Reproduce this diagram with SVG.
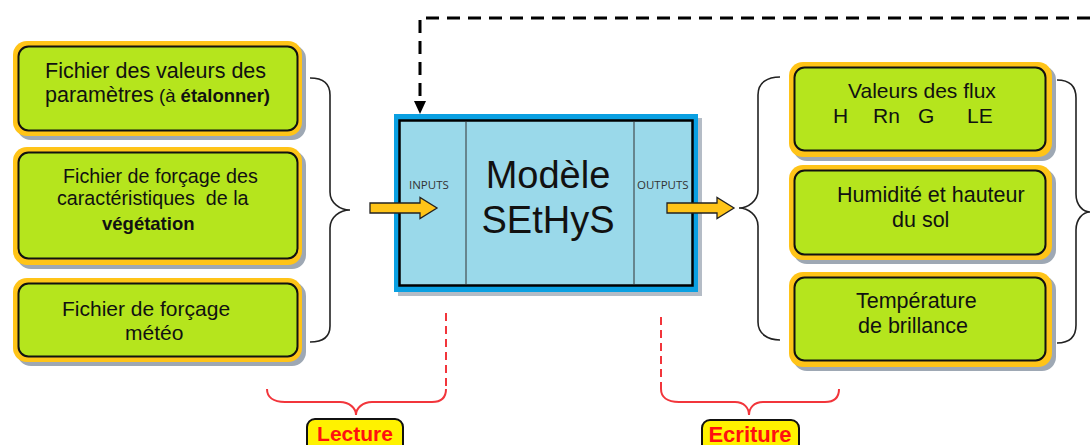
<svg xmlns="http://www.w3.org/2000/svg" width="1090" height="445" viewBox="0 0 1090 445">
<style>
.sh{fill:#9ea8b4}
.or{fill:#ffc418}
.gr{fill:#b5e51d;stroke:#111;stroke-width:2}
.t{font-family:"Liberation Sans",Arial,sans-serif;font-size:21.5px;fill:#111}
.b{font-weight:bold}
.small{font-family:"Open Sans","Liberation Sans",sans-serif;font-size:11.5px;fill:#333}
.brace{fill:none;stroke:#222;stroke-width:1.6}
.red{fill:none;stroke:#f2353b;stroke-width:2}
.reddash{fill:none;stroke:#f2353b;stroke-width:2;stroke-dasharray:8 5}
.arrow{fill:#ffc418;stroke:#222;stroke-width:1.3}
.lab{fill:#fff200;stroke:#111;stroke-width:2}
.labt{font-family:"Liberation Sans",Arial,sans-serif;font-weight:bold;fill:#ff1010;text-anchor:middle}
</style>
<rect width="1090" height="445" fill="#fff"/>

<g id="param">
<rect class="sh" x="17" y="45" width="289" height="95" rx="14"/>
<rect class="or" x="13" y="41" width="289" height="95" rx="14"/>
<rect class="gr" x="18.5" y="46.5" width="279" height="84" rx="10"/>
<text class="t" x="45" y="78">Fichier des valeurs des</text>
<text class="t" x="45" y="102">paramètres</text>
<text class="t" x="159" y="102" style="font-size:18.5px">(à <tspan class="b">étalonner)</tspan></text>
</g>

<g id="vegetation">
<rect class="sh" x="17" y="151" width="289" height="118" rx="14"/>
<rect class="or" x="13" y="147" width="289" height="118" rx="14"/>
<rect class="gr" x="18.5" y="152.5" width="279" height="106" rx="10"/>
<text class="t" x="63" y="183" style="font-size:19.7px">Fichier de forçage des</text>
<text class="t" x="57" y="205" style="font-size:19.7px" xml:space="preserve">caractéristiques  de la</text>
<text class="t b" x="102" y="230" style="font-size:18.5px">végétation</text>
</g>

<g id="meteo">
<rect class="sh" x="17" y="282" width="289" height="84" rx="14"/>
<rect class="or" x="13" y="278" width="289" height="84" rx="14"/>
<rect class="gr" x="18.5" y="283.5" width="279" height="73" rx="10"/>
<text class="t" x="62" y="316" style="font-size:21px">Fichier de forçage</text>
<text class="t" x="125" y="340" style="font-size:21px">météo</text>
</g>

<g id="modele">
<rect x="398" y="118" width="304" height="178" fill="#b4bcc6"/>
<rect x="394" y="114" width="304" height="178" fill="#0aa0e2"/>
<rect x="399.5" y="120.5" width="293" height="165" fill="#9ad9ea" stroke="#000" stroke-width="2.5"/>
<line x1="466" y1="121" x2="466" y2="285" stroke="#333" stroke-width="1"/>
<line x1="634" y1="121" x2="634" y2="285" stroke="#333" stroke-width="1"/>
<text class="t" x="548" y="188" text-anchor="middle" style="font-size:38px">Modèle</text>
<text class="t" x="548" y="233" text-anchor="middle" style="font-size:38px">SEtHyS</text>
<text class="small" x="409" y="189">INPUTS</text>
<text class="small" x="637" y="189">OUTPUTS</text>
</g>

<g id="flux">
<rect class="sh" x="793" y="66" width="263" height="95" rx="14"/>
<rect class="or" x="789" y="62" width="263" height="95" rx="14"/>
<rect class="gr" x="794.5" y="67.5" width="251" height="83" rx="10"/>
<text class="t" x="848" y="98" style="font-size:21px">Valeurs des flux</text>
<text class="t" x="833" y="123" style="font-size:21px">H</text>
<text class="t" x="873" y="123" style="font-size:21px">Rn</text>
<text class="t" x="918" y="123" style="font-size:21px">G</text>
<text class="t" x="967" y="123" style="font-size:21px">LE</text>
</g>

<g id="humidite">
<rect class="sh" x="793" y="169" width="263" height="95" rx="14"/>
<rect class="or" x="789" y="165" width="263" height="95" rx="14"/>
<rect class="gr" x="794.5" y="170.5" width="251" height="84" rx="10"/>
<text class="t" x="837" y="202">Humidité et hauteur</text>
<text class="t" x="892" y="227">du sol</text>
</g>

<g id="temperature">
<rect class="sh" x="793" y="276" width="263" height="95" rx="14"/>
<rect class="or" x="789" y="272" width="263" height="95" rx="14"/>
<rect class="gr" x="794.5" y="277.5" width="251" height="83" rx="10"/>
<text class="t" x="856" y="308">Température</text>
<text class="t" x="858" y="333">de brillance</text>
</g>

<g id="lecture">
<rect class="lab" x="307" y="419" width="96" height="36" rx="8"/>
<text class="labt" x="355" y="441" style="font-size:21px">Lecture</text>
</g>

<g id="ecriture">
<rect class="lab" x="702" y="420" width="97" height="36" rx="8"/>
<text class="labt" x="750" y="442" style="font-size:22px">Ecriture</text>
</g>

<g id="connectors">
<path d="M1090,18 H420 V101" fill="none" stroke="#000" stroke-width="3" stroke-dasharray="13 8"/>
<path d="M414,101 L426,101 L420,114 Z" fill="#000"/>
<path class="brace" d="M310,78 C322,78 330,82 330,95 V192 C330,203 340,210 350,210 C340,210 330,217 330,228 V326 C330,338 322,342 310,342"/>
<path class="brace" d="M780,77 C768,77 758,82 758,95 V190 C758,201 748,208 739,208 C748,208 758,215 758,226 V322 C758,334 768,340 780,340"/>
<path class="brace" d="M1057,80 C1069,80 1076,86 1076,98 V194 C1076,205 1083,212 1090,212 C1083,212 1076,219 1076,230 V325 C1076,337 1069,343 1057,343"/>
<polygon class="arrow" points="370,203 420,203 420,197.5 437,208 420,218.5 420,213 370,213"/>
<polygon class="arrow" points="667,203 717,203 717,197.5 734,208 717,218.5 717,213 667,213"/>
<path class="reddash" d="M446,313 V389"/>
<path class="red" d="M267,389 C267,397 273,402 285,402 H340 C349,402 356,408 356,415 C356,408 363,402 372,402 H432 C442,402 446,397 446,389"/>
<path class="reddash" d="M661,317 V389"/>
<path class="red" d="M661,389 C661,397 667,402 679,402 H735 C744,402 749,408 749,415 C749,408 754,402 763,402 H825 C835,402 839,397 839,389"/>
</g>
</svg>
